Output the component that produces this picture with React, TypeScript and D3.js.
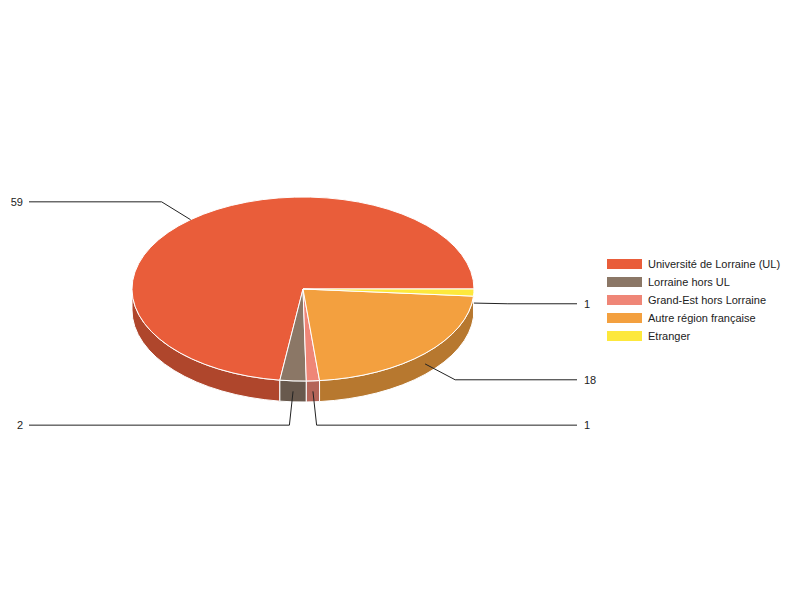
import React from 'react';
import * as d3 from 'd3';

const categories = [
  'Université de Lorraine (UL)',
  'Lorraine hors UL',
  'Grand-Est hors Lorraine',
  'Autre région française',
  'Etranger',
];
const values = [59, 2, 1, 18, 1];
const colors = ['#E95D3A', '#8B7766', '#EF8677', '#F3A03F', '#FDE83C'];

const width = 800;
const height = 600;
const cx = 303;
const cy = 289;
const rx = 171;
const ry = 92;
const depth = 21;
const font = 'Arial, "Liberation Sans", sans-serif';

// screen point on the top ellipse for a math angle (ccw, y up)
const pt = (t: number, dy = 0): [number, number] => [cx + rx * Math.cos(t), cy - ry * Math.sin(t) + dy];

const App: React.FC = () => {
  // d3 angles run clockwise from 12 o'clock; go counterclockwise from 3 o'clock
  const pie = d3.pie<number>().sort(null).value(d => d)
    .startAngle(Math.PI / 2)
    .endAngle(Math.PI / 2 - 2 * Math.PI);
  const arcs = pie(values).map((a, i) => {
    const t0 = Math.PI / 2 - a.startAngle;
    const t1 = Math.PI / 2 - a.endAngle;
    return { i, t0, t1, value: a.value };
  });

  const topPath = (t0: number, t1: number) => {
    const [x0, y0] = pt(t0);
    const [x1, y1] = pt(t1);
    const large = t1 - t0 > Math.PI ? 1 : 0;
    return `M${cx},${cy}L${x0},${y0}A${rx},${ry} 0 ${large} 0 ${x1},${y1}Z`;
  };

  const sidePath = (t0: number, t1: number) => {
    const a = Math.max(t0, Math.PI);
    const b = Math.min(t1, 2 * Math.PI);
    if (b <= a) return null;
    const [x0, y0] = pt(a);
    const [x1, y1] = pt(b);
    return `M${x0},${y0}A${rx},${ry} 0 0 0 ${x1},${y1}L${x1},${y1 + depth}` +
      `A${rx},${ry} 0 0 1 ${x0},${y0 + depth}Z`;
  };

  const labels = arcs.map(a => {
    const tm = (a.t0 + a.t1) / 2;
    const front = Math.sin(tm) < 0;
    const off = front ? depth / 2 : 0;
    const [ax, ay] = pt(tm, off);
    const ccy = cy + off;
    const len = Math.hypot(ax - cx, ay - ccy);
    const ex = ax + 34 * (ax - cx) / len;
    const ey = ay + 34 * (ay - ccy) / len;
    const right = ex > cx;
    return { ...a, ax, ay, ex, ey, right };
  });

  const legendTop = 259;
  const rowH = 18;

  return (
    <svg width={width} height={height} style={{ display: 'block', margin: -8 }}>
      <rect width={width} height={height} fill="#fff" />
      {arcs.map(a => {
        const d = sidePath(a.t0, a.t1);
        return d ? (
          <path key={`s${a.i}`} d={d} fill={d3.rgb(colors[a.i]).darker(0.8).formatHex()}
            stroke="#fff" strokeWidth={1} />
        ) : null;
      })}
      {arcs.map(a => (
        <path key={`t${a.i}`} d={topPath(a.t0, a.t1)} fill={colors[a.i]} stroke="#fff" strokeWidth={1} />
      ))}
      {labels.map(l => (
        <g key={`l${l.i}`}>
          <path d={`M${l.ax},${l.ay}L${l.ex},${l.ey}L${l.right ? 577 : 29},${l.ey}`}
            fill="none" stroke="#222" strokeWidth={1} />
          <text x={l.right ? 584 : 23} y={l.ey} dy="0.35em" textAnchor={l.right ? 'start' : 'end'}
            fontFamily={font} fontSize={11} fill="#222">{l.value}</text>
        </g>
      ))}
      {categories.map((c, i) => (
        <g key={`g${i}`} transform={`translate(607,${legendTop + i * rowH})`}>
          <rect width={35} height={10} fill={colors[i]} />
          <text x={41} y={5} dy="0.35em" fontFamily={font} fontSize={11} fill="#222">{c}</text>
        </g>
      ))}
    </svg>
  );
};

export default App;
